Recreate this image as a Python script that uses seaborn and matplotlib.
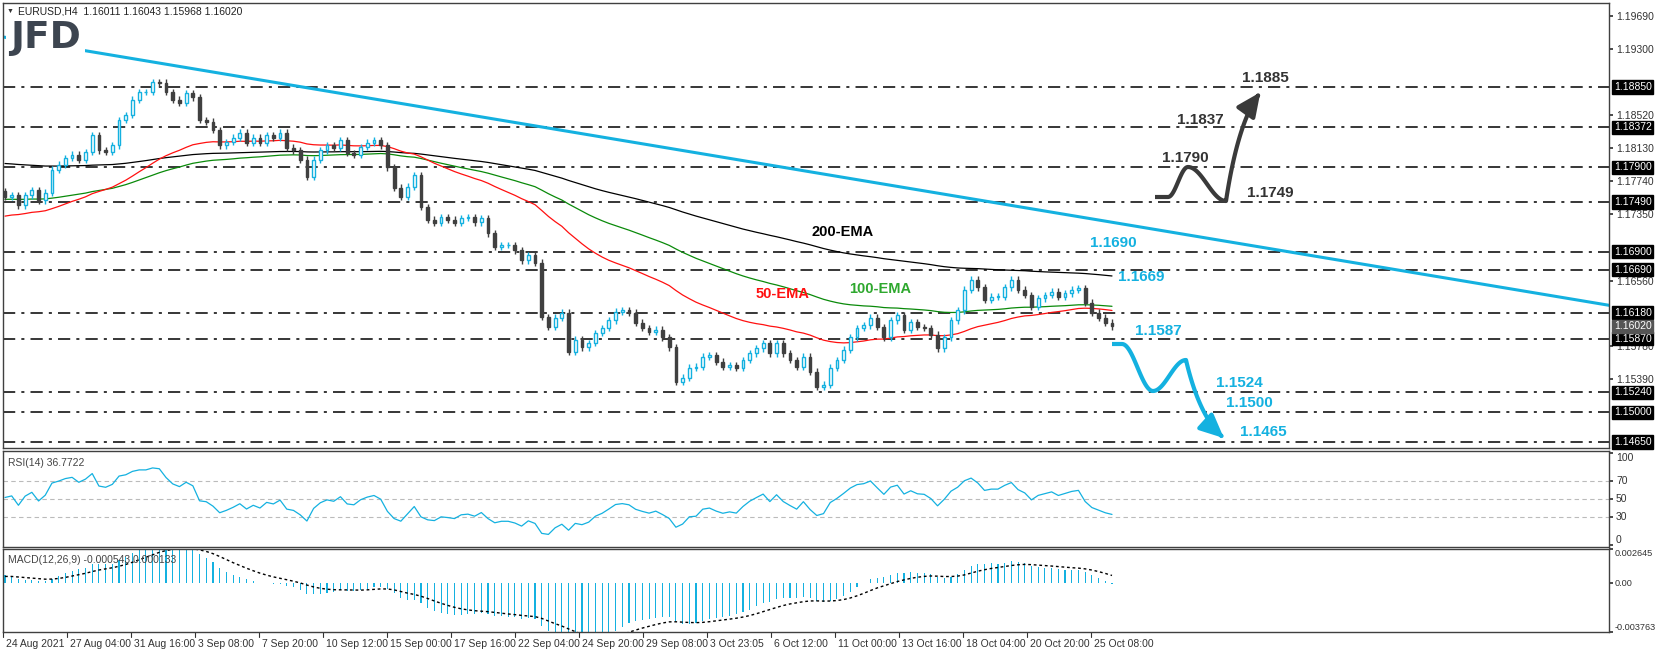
import numpy as np
import pandas as pd
import matplotlib
matplotlib.use("Agg")
import matplotlib.pyplot as plt
import seaborn as sns

sns.set_theme(style="white")
plt.rcParams['font.family'] = ['Liberation Sans', 'DejaVu Sans']

# ---------------- data ----------------
closes = [1.1755, 1.1757, 1.1745, 1.1757, 1.1763, 1.1751, 1.1760, 1.1787, 1.1793, 1.1801,
          1.1805, 1.1799, 1.1808, 1.1828, 1.1810, 1.1808, 1.1816, 1.1846, 1.1852, 1.1870,
          1.1879, 1.1879, 1.1891,
          1.1890, 1.1879, 1.1870, 1.1866, 1.1878, 1.1873, 1.1846, 1.1844, 1.1834, 1.1816,
          1.1820, 1.1825, 1.1831, 1.1819, 1.1825, 1.1819, 1.1828, 1.1825, 1.1831, 1.1813,
          1.1810, 1.1799, 1.1779, 1.1799, 1.1810, 1.1816, 1.1813, 1.1822, 1.1807, 1.1805,
          1.1814, 1.1819, 1.1822, 1.1816, 1.1790, 1.1766, 1.1755, 1.1767, 1.1781, 1.1743,
          1.1728, 1.1724, 1.1731, 1.1728, 1.1724, 1.1730, 1.1731, 1.1725, 1.1730, 1.1712,
          1.1696, 1.1698, 1.1698, 1.1692, 1.1680,
          1.1686, 1.1677,
          1.1613, 1.1601, 1.1612, 1.1618, 1.1572, 1.1586, 1.1577, 1.1582, 1.1594, 1.1600,
          1.1609, 1.1619, 1.1621, 1.1618, 1.1606, 1.1600, 1.1595, 1.1598, 1.1589, 1.1577,
          1.1536, 1.1541, 1.1553, 1.1554, 1.1566, 1.1568, 1.1560, 1.1554, 1.1556, 1.1553,
          1.1562, 1.1570, 1.1576, 1.1582, 1.1570, 1.1582, 1.1570, 1.1562, 1.1554, 1.1566,
          1.1548, 1.1530, 1.1533, 1.1553, 1.1562, 1.1574, 1.1589, 1.1600, 1.1603, 1.1612,
          1.1601, 1.1589, 1.1609, 1.1615, 1.1598, 1.1607, 1.1601, 1.1600, 1.1592, 1.1576,
          1.1589, 1.1609, 1.1621, 1.1645, 1.1657, 1.1648, 1.1633, 1.1637, 1.1637, 1.1648,
          1.1657, 1.1645, 1.1639, 1.1625, 1.1635, 1.1639, 1.1643, 1.1637,
          1.1641, 1.1645, 1.1647, 1.1630, 1.1618, 1.1612, 1.1606, 1.1602]
first_open = 1.1762
ema_seeds = {50: 1.1731, 100: 1.1752, 200: 1.1795}
ema_spans = {50: 38, 100: 75, 200: 150}
macd_seeds = {'fast': 1.1768, 'slow': 1.1760, 'signal': 0.0005}
rsi_seed = {'gain': 0.00035, 'loss': 0.00025}

levels = [1.1885, 1.18372, 1.1790, 1.1749, 1.1690, 1.1669, 1.1618, 1.1587, 1.1524, 1.1500, 1.1465]
level_labels = ['1.18850', '1.18372', '1.17900', '1.17490', '1.16900', '1.16690', '1.16180',
                '1.15870', '1.15240', '1.15000', '1.14650']
axis_ticks = [1.1969, 1.1930, 1.1852, 1.1813, 1.1774, 1.1735, 1.1656, 1.1578, 1.1539]
current_price = 1.1602
trend_start, trend_end = 1.19442, 1.16212

date_labels = ['24 Aug 2021', '27 Aug 04:00', '31 Aug 16:00', '3 Sep 08:00', '7 Sep 20:00',
               '10 Sep 12:00', '15 Sep 00:00', '17 Sep 16:00', '22 Sep 04:00', '24 Sep 20:00',
               '29 Sep 08:00', '3 Oct 23:05', '6 Oct 12:00', '11 Oct 00:00', '13 Oct 16:00',
               '18 Oct 04:00', '20 Oct 20:00', '25 Oct 08:00']

bull_levels = ['1.1885', '1.1837', '1.1790', '1.1749']
bear_levels = ['1.1690', '1.1669', '1.1587', '1.1524', '1.1500', '1.1465']

# ---------------- geometry helpers ----------------
W, H = 1655, 653
RIGHT = 1609
N = len(closes)
ppi = (1112 - 5) / (N - 1)
def xd(px):
    return (px - 5) / ppi
def pr(py):
    return 1.1885 + (87 - py) / 8452.0

CYAN = '#14b1e0'
DARK = '#404040'
GRID = '#404040'

c = np.array(closes)
o = np.concatenate([[first_open], c[:-1]])
hi = np.maximum(o, c) + 0.0004
lo = np.minimum(o, c) - 0.0004
idx = np.arange(N)

def ema(series, span, seed):
    a = 2.0 / (span + 1)
    out = []
    v = seed
    for s in series:
        v = v + a * (s - v)
        out.append(v)
    return np.array(out)

df = pd.DataFrame({'i': idx, 'close': c})
for k in (50, 100, 200):
    df[f'ema{k}'] = ema(c, ema_spans[k], ema_seeds[k])

delta = np.diff(np.concatenate([[first_open], c]))
g = ema(np.clip(delta, 0, None), 19, rsi_seed['gain'])
l = ema(np.clip(-delta, 0, None), 19, rsi_seed['loss'])
df['rsi'] = 100 - 100 / (1 + g / np.maximum(l, 1e-9))
macd = ema(c, 12, macd_seeds['fast']) - ema(c, 26, macd_seeds['slow'])
df['macd'] = macd
df['signal'] = ema(macd, 9, macd_seeds['signal'])

fig = plt.figure(figsize=(W / 100, H / 100), dpi=100)
fig.patch.set_facecolor('white')
def ax_at(top, bottom):
    return fig.add_axes([3 / W, 1 - bottom / H, (RIGHT - 3) / W, (bottom - top) / H])
ax = ax_at(3, 448)
axr = ax_at(451, 547)
axm = ax_at(549, 632)
xl = (xd(3), xd(RIGHT))
for a in (ax, axr, axm):
    a.set_xlim(*xl)
    for s in a.spines.values():
        s.set_color(GRID); s.set_linewidth(1)
    a.yaxis.tick_right()
    a.tick_params(axis='y', direction='out', length=3, labelsize=7.5, colors='#333333', pad=2)
    a.tick_params(axis='x', bottom=False, labelbottom=False)

ax.set_ylim(pr(448), pr(3))

ax.plot([xd(3), xd(RIGHT)], [trend_start, trend_start + (trend_end - trend_start) * (RIGHT - 3) / (1637 - 3)],
        color=CYAN, lw=2.2, zorder=2)

for lv in levels:
    ax.axhline(lv, color='black', lw=1.1, dashes=(8, 4, 2, 4), zorder=1)

sns.lineplot(data=df, x='i', y='ema200', ax=ax, color='black', lw=0.9, zorder=3)
sns.lineplot(data=df, x='i', y='ema100', ax=ax, color='#0a8a0a', lw=0.9, zorder=3)
sns.lineplot(data=df, x='i', y='ema50', ax=ax, color='#ff1010', lw=0.9, zorder=3)

bw = 2.8 / ppi
for i in range(N):
    up = c[i] >= o[i]
    col = CYAN if up else DARK
    ax.vlines(i, lo[i], hi[i], color=col, lw=1, zorder=4)
    b0, b1 = min(o[i], c[i]), max(o[i], c[i])
    ax.bar(i, max(b1 - b0, 0.00005), bottom=b0, width=bw,
           color='white' if up else DARK, edgecolor=col, lw=1, zorder=5)

ax.set_yticks(axis_ticks)
ax.set_yticklabels([f'{t:.5f}' for t in axis_ticks])
ax.set_xlabel(''); ax.set_ylabel('')

for lv, lab in zip(levels, level_labels):
    ax.text(1.003, lv, lab, transform=ax.get_yaxis_transform(), va='center', ha='left',
            fontsize=7.5, color='white', bbox=dict(boxstyle='square,pad=0.15', fc='black', ec='black'))
ax.text(1.003, current_price, '1.16020', transform=ax.get_yaxis_transform(), va='center', ha='left',
        fontsize=7.5, color='white', bbox=dict(boxstyle='square,pad=0.15', fc='#555555', ec='#555555'))

fig.text(7 / W, 1 - 11 / H, '\u25BC', fontsize=5, color='#333333', va='center')
fig.text(18 / W, 1 - 11 / H, 'EURUSD,H4  1.16011 1.16043 1.15968 1.16020', fontsize=7.5,
         color='#222222', va='center')
fig.text(10 / W, 1 - 38 / H, 'JFD', fontsize=27, fontweight='bold', color='#3d4550', va='center',
         family='DejaVu Sans', bbox=dict(fc='white', ec='none', pad=3))

ax.text(xd(843), pr(232), '200-EMA', fontsize=10.5, fontweight='bold', color='black', ha='center', va='center')
ax.text(xd(783), pr(294), '50-EMA', fontsize=10.5, fontweight='bold', color='#ff1010', ha='center', va='center')
ax.text(xd(880), pr(289), '100-EMA', fontsize=10.5, fontweight='bold', color='#2ea82e', ha='center', va='center')

bull_pos = [(1265, 78), (1200, 120), (1185, 158), (1270, 193)]
for t, (px, py) in zip(bull_levels, bull_pos):
    ax.text(xd(px), pr(py), t, fontsize=11, fontweight='bold', color='#333333', ha='center', va='center')
bear_pos = [(1113, 243), (1141, 277), (1158, 331), (1239, 383), (1249, 403), (1263, 432)]
for t, (px, py) in zip(bear_levels, bear_pos):
    ax.text(xd(px), pr(py), t, fontsize=11, fontweight='bold', color=CYAN, ha='center', va='center')

def cos_seg(x0, y0, x1, y1, n=30):
    tt = np.linspace(0, 1, n)
    return x0 + (x1 - x0) * tt, y0 + (y1 - y0) * (1 - np.cos(np.pi * tt)) / 2

def path(pts, tip, color):
    xs, ys = [pts[0][0], pts[1][0]], [pts[0][1], pts[1][1]]
    for (a0, b0), (a1, b1) in zip(pts[1:-1], pts[2:]):
        sx, sy = cos_seg(a0, b0, a1, b1)
        xs += list(sx); ys += list(sy)
    p0 = np.array([xs[-1], ys[-1]]); p2 = np.array(tip)
    p1 = np.array([p0[0] + (p2[0] - p0[0]) * 0.35, p0[1] + (p2[1] - p0[1]) * 0.75])
    tt = np.linspace(0, 1, 30)[:, None]
    bz = (1 - tt) ** 2 * p0 + 2 * (1 - tt) * tt * p1 + tt ** 2 * p2
    xs += list(bz[:-4, 0]); ys += list(bz[:-4, 1])
    xdat = [xd(v) for v in xs]; ydat = [pr(v) for v in ys]
    ax.plot(xdat, ydat, color=color, lw=3, solid_capstyle='butt', zorder=6)
    ax.annotate('', xy=(xd(tip[0]), pr(tip[1])), xytext=(xdat[-1], ydat[-1]),
                arrowprops=dict(arrowstyle='-|>,head_length=1.2,head_width=0.55', color=color, lw=3), zorder=6)

path([(1155, 197), (1168, 197), (1188, 167), (1226, 201)], (1262, 90), '#3a3a3a')
path([(1112, 344), (1122, 344), (1153, 391), (1186, 360)], (1226, 440), CYAN)

# RSI
axr.set_ylim(-2, 102)
for lvl in (30, 50, 70):
    axr.axhline(lvl, color='#bbbbbb', lw=0.8, ls=(0, (4, 3)))
sns.lineplot(data=df, x='i', y='rsi', ax=axr, color=CYAN, lw=0.9)
axr.set_yticks([0, 30, 50, 70, 100])
axr.set_yticklabels(['0', '30', '50', '70', '100'])
for t, va in zip(axr.get_yticklabels(), ['bottom', 'center', 'center', 'center', 'top']):
    t.set_va(va)
axr.set_xlabel(''); axr.set_ylabel('')
axr.text(0.003, 0.93, 'RSI(14) 36.7722', transform=axr.transAxes, fontsize=7.5, color='#444444', va='top')

# MACD
axm.set_ylim(-0.003763, 0.002645)
axm.bar(idx, df['macd'], width=bw * 0.4, color=CYAN, lw=0)
sns.lineplot(data=df, x='i', y='signal', ax=axm, color='black', lw=1, ls=(0, (2, 2)))
axm.set_yticks([-0.003763, 0.0, 0.002645])
axm.set_yticklabels(['-0.003763', '0.00', '0.002645'])
axm.tick_params(axis='y', labelsize=6.6, pad=1)
for t, va in zip(axm.get_yticklabels(), ['bottom', 'center', 'top']):
    t.set_va(va)
axm.set_xlabel(''); axm.set_ylabel('')
axm.text(0.003, 0.93, 'MACD(12,26,9) -0.000543 0.000133', transform=axm.transAxes, fontsize=7.5,
         color='#444444', va='top')

tick_px = [3 + 64 * k for k in range(len(date_labels))]
for px, lab in zip(tick_px, date_labels):
    xv = xd(px)
    axm.plot([xv, xv], [0, -0.06], transform=axm.get_xaxis_transform(), color='#333333', lw=0.8, clip_on=False)
    axm.text(xv + xd(3) - xd(0), -0.08, lab, transform=axm.get_xaxis_transform(), fontsize=7.5,
             color='#333333', va='top', ha='left')

fig.savefig('out.png', dpi=100, facecolor='white')
